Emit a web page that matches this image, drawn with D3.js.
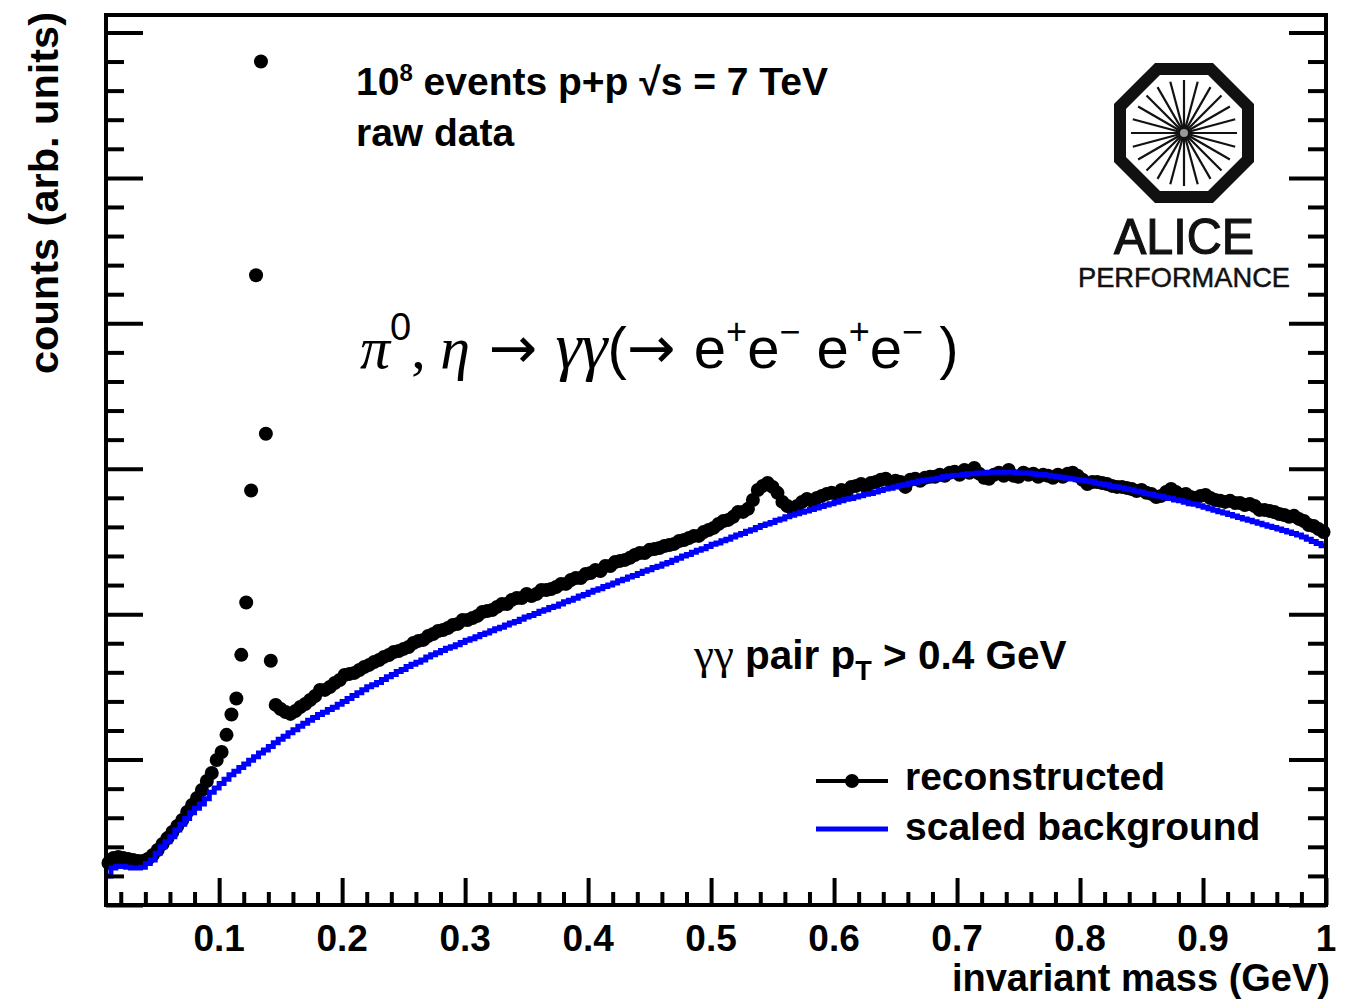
<!DOCTYPE html>
<html>
<head>
<meta charset="utf-8">
<script src="https://cdn.jsdelivr.net/npm/d3@7"></script>
<style>
  body { margin: 0; background: #fff; }
  svg { display: block; }
  text { font-family: "Liberation Sans", Arial, Helvetica, sans-serif; }
</style>
</head>
<body>
<svg id="chart" width="1350" height="1000"></svg>
<script>
// histogram binning (GeV)
const BIN_LO = 0.008;
const BIN_W = 0.004;

// reconstructed gamma-gamma invariant mass, counts (arb. units) per bin
const reconstructed = [
  28.9, 32.3, 33.0, 32.3, 31.6, 31.0, 30.3, 30.3, 31.6, 34.4,
  37.8, 42.0, 46.0, 50.2, 54.3, 58.5, 64.0, 68.8, 73.6, 79.1,
  85.3, 90.8, 99.7, 105.2, 117.0, 131.0, 142.0, 172.0, 208.0, 285.0,
  433.0, 580.0, 324.0, 168.0, 137.6, 134.8, 132.7, 131.4, 133.4, 136.2,
  138.2, 141.0, 143.7, 147.9, 147.9, 149.9, 152.7, 154.7, 158.2, 158.9,
  159.6, 161.6, 163.7, 165.1, 167.1, 168.5, 170.6, 171.9, 174.0, 174.7,
  176.1, 177.4, 180.2, 181.6, 182.3, 185.0, 186.4, 188.4, 189.1, 190.5,
  192.6, 193.3, 196.0, 196.0, 197.4, 198.8, 201.5, 202.2, 202.9, 205.0,
  207.0, 207.0, 209.8, 211.1, 211.1, 213.9, 212.5, 213.9, 216.6, 216.6,
  217.3, 218.7, 220.8, 220.8, 223.5, 224.9, 224.9, 227.6, 228.3, 230.4,
  229.7, 233.1, 233.1, 235.9, 236.6, 237.3, 238.7, 240.7, 242.1, 242.1,
  244.2, 244.8, 245.5, 246.9, 247.6, 248.3, 250.3, 251.0, 252.4, 253.8,
  253.8, 256.5, 257.9, 259.3, 262.0, 264.1, 264.8, 266.9, 270.3, 270.3,
  272.4, 278.5, 285.4, 288.2, 290.2, 287.5, 283.4, 277.2, 274.4, 272.4,
  274.4, 277.2, 279.2, 277.9, 279.9, 281.3, 282.7, 283.4, 282.7, 285.4,
  284.0, 287.5, 288.2, 289.5, 287.5, 290.2, 290.9, 292.4, 293.1, 291.1,
  291.7, 290.9, 287.5, 292.4, 293.1, 291.7, 293.8, 294.4, 294.4, 295.9,
  295.2, 297.2, 297.9, 295.9, 299.2, 297.2, 300.5, 296.6, 293.8, 293.1,
  295.9, 297.2, 295.2, 299.2, 295.2, 294.4, 297.2, 295.9, 296.6, 294.4,
  295.9, 295.2, 293.8, 295.9, 294.4, 296.6, 297.2, 295.2, 292.4, 289.5,
  290.9, 290.9, 290.2, 289.5, 288.2, 287.5, 287.5, 286.8, 286.1, 284.7,
  285.4, 283.4, 282.7, 280.6, 281.3, 284.0, 286.1, 284.0, 281.9, 282.7,
  280.6, 279.9, 281.3, 282.0, 279.9, 278.5, 277.9, 277.2, 277.9, 276.5,
  276.5, 275.1, 275.8, 274.4, 271.7, 271.7, 271.0, 270.3, 268.9, 268.2,
  266.9, 267.6, 265.5, 264.1, 261.3, 260.6, 258.5, 256.5
];

// scaled (mixed-event) background, same binning
const background = [
  20.0, 25.5, 26.5, 26.5, 26.0, 25.5, 25.5, 26.0, 28.5, 31.0,
  35.5, 40.0, 43.5, 47.0, 51.5, 55.5, 59.5, 63.5, 66.5, 69.5,
  73.0, 77.5, 80.5, 83.5, 86.5, 89.5, 92.0, 94.5, 97.0, 99.5,
  102.0, 104.5, 106.5, 109.0, 111.5, 114.0, 116.0, 118.5, 120.5, 123.0,
  125.0, 127.0, 129.0, 131.0, 132.5, 134.5, 136.0, 138.0, 140.0, 142.0,
  144.0, 146.0, 148.0, 150.0, 151.5, 153.0, 155.0, 157.0, 158.5, 160.5,
  162.0, 164.0, 165.5, 167.0, 168.5, 170.5, 172.0, 173.5, 175.0, 176.5,
  177.5, 179.0, 180.5, 182.0, 183.0, 184.5, 186.0, 187.0, 188.5, 190.0,
  191.0, 192.5, 194.0, 195.0, 196.5, 198.0, 199.0, 200.5, 202.0, 203.0,
  204.5, 205.5, 207.0, 208.5, 209.5, 211.0, 212.5, 213.5, 215.0, 216.5,
  217.5, 219.0, 220.0, 221.5, 223.0, 224.0, 225.5, 226.5, 228.0, 229.5,
  230.5, 232.0, 233.0, 234.5, 235.5, 237.0, 238.5, 240.0, 241.0, 242.5,
  244.0, 245.0, 246.5, 248.0, 249.0, 250.5, 251.5, 253.0, 254.5, 255.5,
  257.0, 258.0, 259.5, 261.0, 262.0, 263.0, 264.5, 265.5, 267.0, 268.0,
  269.0, 270.0, 271.0, 272.0, 273.0, 274.0, 275.0, 276.0, 277.0, 278.0,
  279.0, 279.5, 280.5, 281.5, 282.5, 283.0, 284.0, 285.0, 286.0, 286.5,
  287.5, 288.5, 289.0, 290.0, 290.5, 291.5, 292.0, 292.5, 293.0, 293.5,
  294.5, 295.0, 295.5, 295.5, 296.0, 296.5, 296.5, 297.0, 297.0, 297.5,
  297.5, 297.5, 297.5, 297.5, 297.5, 297.0, 297.0, 297.0, 296.5, 296.0,
  296.0, 295.5, 295.0, 294.5, 294.0, 293.5, 293.0, 292.5, 292.0, 291.5,
  291.0, 290.0, 289.5, 289.0, 288.0, 287.5, 287.0, 286.0, 285.5, 284.5,
  284.0, 283.0, 282.5, 281.5, 281.0, 280.0, 279.5, 278.5, 278.0, 277.0,
  276.0, 275.5, 274.5, 273.5, 272.5, 271.5, 270.5, 269.5, 268.5, 267.5,
  266.5, 265.5, 264.5, 263.5, 262.5, 261.5, 260.5, 259.5, 258.5, 257.5,
  256.5, 255.5, 254.5, 253.0, 251.5, 250.0, 248.5, 247.0
];

const xMajorTicks = [0.1, 0.2, 0.3, 0.4, 0.5, 0.6, 0.7, 0.8, 0.9, 1.0];
const xTickLabels = ['0.1', '0.2', '0.3', '0.4', '0.5', '0.6', '0.7', '0.8', '0.9', '1'];
const yMajorTicks = [0, 100, 200, 300, 400, 500, 600];

const legendItems = ['reconstructed', 'scaled background'];

const svg = d3.select('#chart');
const W = 1350, H = 1000;
const fLeft = 106, fRight = 1326, fTop = 15, fBottom = 905;

svg.append('rect').attr('width', W).attr('height', H).attr('fill', '#fff');

const x = d3.scaleLinear().domain([BIN_LO, 1]).range([fLeft, fRight]);
const y = d3.scaleLinear().domain([0, 612]).range([fBottom, fTop]);

const bins = reconstructed.map((v, i) => ({
  lo: BIN_LO + i * BIN_W,
  mid: BIN_LO + (i + 0.5) * BIN_W,
  data: v,
  bkg: background[i]
}));

// clip for the histogram line
svg.append('clipPath').attr('id', 'frameClip')
  .append('rect').attr('x', fLeft).attr('y', fTop).attr('width', fRight - fLeft).attr('height', fBottom - fTop);

// reconstructed: markers only
svg.append('g')
  .selectAll('circle')
  .data(bins)
  .enter()
  .append('circle')
  .attr('cx', d => x(d.mid))
  .attr('cy', d => y(d.data))
  .attr('r', 7)
  .attr('fill', '#000');

// background: step histogram (bin edges)
const stepPts = bins.map(d => [d.lo, d.bkg]);
stepPts.push([bins[bins.length - 1].lo + BIN_W, bins[bins.length - 1].bkg]);
const line = d3.line().x(d => x(d[0])).y(d => y(d[1])).curve(d3.curveStepAfter);
svg.append('path')
  .attr('d', line(stepPts))
  .attr('fill', 'none')
  .attr('stroke', '#0000ff')
  .attr('stroke-width', 5)
  .attr('clip-path', 'url(#frameClip)');

// axes ticks (ROOT style: inward ticks on bottom, left and right)
const tickStyle = g => {
  g.select('.domain').remove();
  g.selectAll('line').attr('stroke', '#000').attr('stroke-width', 4);
};
const xMinor = d3.range(0.02, 1, 0.02).filter(v => Math.abs(v * 10 - Math.round(v * 10)) > 1e-6);
const yMinor = d3.range(20, 612, 20).filter(v => v % 100 !== 0);

svg.append('g').attr('transform', `translate(0,${fBottom})`)
  .call(d3.axisBottom(x).tickValues(xMajorTicks).tickSize(-27).tickFormat('')).call(tickStyle);
svg.append('g').attr('transform', `translate(0,${fBottom})`)
  .call(d3.axisBottom(x).tickValues(xMinor).tickSize(-13).tickFormat('')).call(tickStyle);

[[fLeft, d3.axisLeft], [fRight, d3.axisRight]].forEach(([pos, ax]) => {
  svg.append('g').attr('transform', `translate(${pos},0)`)
    .call(ax(y).tickValues(yMajorTicks).tickSize(-37).tickFormat('')).call(tickStyle);
  svg.append('g').attr('transform', `translate(${pos},0)`)
    .call(ax(y).tickValues(yMinor).tickSize(-18).tickFormat('')).call(tickStyle);
});

// frame
svg.append('rect')
  .attr('x', fLeft).attr('y', fTop)
  .attr('width', fRight - fLeft).attr('height', fBottom - fTop)
  .attr('fill', 'none').attr('stroke', '#000').attr('stroke-width', 4);

// tick labels
svg.append('g')
  .selectAll('text')
  .data(xMajorTicks)
  .enter()
  .append('text')
  .attr('x', d => x(d))
  .attr('y', 951)
  .attr('text-anchor', 'middle')
  .attr('font-size', 37)
  .attr('font-weight', 'bold')
  .text((d, i) => xTickLabels[i]);

// axis titles
svg.append('text')
  .attr('x', 1330).attr('y', 991)
  .attr('text-anchor', 'end')
  .attr('font-size', 38).attr('font-weight', 'bold')
  .text('invariant mass (GeV)');

svg.append('text')
  .attr('transform', 'translate(58,12) rotate(-90)')
  .attr('text-anchor', 'end')
  .attr('font-size', 41.5).attr('font-weight', 'bold')
  .text('counts (arb. units)');

// header text
const head = svg.append('text').attr('x', 356).attr('y', 95)
  .attr('font-size', 39).attr('font-weight', 'bold');
head.append('tspan').text('10');
head.append('tspan').attr('dy', -14).attr('font-size', 24).text('8');
head.append('tspan').attr('dy', 14).text(' events p+p \u221As = 7 TeV');

svg.append('text').attr('x', 356).attr('y', 146)
  .attr('font-size', 39).attr('font-weight', 'bold')
  .text('raw data');

// decay formula
const serif = '"Liberation Serif", "DejaVu Serif", serif';
const arrowFont = '"DejaVu Sans", sans-serif';
const formula = [
  { t: '\u03C0', ff: serif, it: true, fs: 60 },
  { t: '0', fs: 38, dy: -28 },
  { t: ', ', ff: serif, dy: 28 },
  { t: '\u03B7', ff: serif, it: true, fs: 60 },
  { t: ' \u2192 ', ff: arrowFont },
  { t: '\u03B3\u03B3', ff: serif, it: true, fs: 66 },
  { t: '(' },
  { t: '\u2192 ', ff: arrowFont },
  { t: 'e' },
  { t: '+', fs: 36, dy: -24 },
  { t: 'e', dy: 24 },
  { t: '\u2212', fs: 36, dy: -24 },
  { t: ' e', dy: 24 },
  { t: '+', fs: 36, dy: -24 },
  { t: 'e', dy: 24 },
  { t: '\u2212', fs: 36, dy: -24 },
  { t: ' )', dy: 24 }
];
const f = svg.append('text').attr('x', 360).attr('y', 368).attr('font-size', 58);
formula.forEach(p => {
  const s = f.append('tspan').text(p.t);
  if (p.ff) s.attr('font-family', p.ff);
  if (p.it) s.attr('font-style', 'italic');
  if (p.fs) s.attr('font-size', p.fs);
  if (p.dy) s.attr('dy', p.dy);
});

// pT cut
const pt = svg.append('text').attr('x', 694).attr('y', 669).attr('font-size', 40.5);
pt.append('tspan').attr('font-family', serif).attr('font-size', 45).text('\u03B3\u03B3');
pt.append('tspan').attr('font-weight', 'bold').text(' pair p');
pt.append('tspan').attr('dy', 11).attr('font-size', 27).attr('font-weight', 'bold').text('T');
pt.append('tspan').attr('dy', -11).attr('font-weight', 'bold').text(' > 0.4 GeV');

// legend
const leg = svg.append('g');
leg.append('line').attr('x1', 816).attr('x2', 888).attr('y1', 781).attr('y2', 781)
  .attr('stroke', '#000').attr('stroke-width', 4);
leg.append('circle').attr('cx', 852).attr('cy', 781).attr('r', 7).attr('fill', '#000');
leg.append('line').attr('x1', 816).attr('x2', 888).attr('y1', 829).attr('y2', 829)
  .attr('stroke', '#0000ff').attr('stroke-width', 5);
leg.selectAll('text')
  .data(legendItems)
  .enter()
  .append('text')
  .attr('x', 905)
  .attr('y', (d, i) => 790 + i * 50)
  .attr('font-size', 39)
  .attr('font-weight', 'bold')
  .text(d => d);

// ALICE performance logo
const logo = svg.append('g').attr('transform', 'translate(1184,133)');
const R = 64 / Math.cos(Math.PI / 8);
logo.append('polygon')
  .attr('points', d3.range(8).map(k => {
    const a = Math.PI / 8 + k * Math.PI / 4;
    return [R * Math.cos(a), R * Math.sin(a)].join(',');
  }).join(' '))
  .attr('fill', '#fff').attr('stroke', '#111').attr('stroke-width', 12);
logo.append('g')
  .selectAll('line')
  .data(d3.range(24))
  .enter()
  .append('line')
  .attr('x1', 0).attr('y1', 0)
  .attr('x2', k => 53 * Math.cos(k * Math.PI / 12))
  .attr('y2', k => 53 * Math.sin(k * Math.PI / 12))
  .attr('stroke', '#111').attr('stroke-width', 2.2);
logo.append('circle').attr('r', 4).attr('fill', '#999');
logo.append('text')
  .attr('x', 0).attr('y', 121)
  .attr('text-anchor', 'middle')
  .attr('font-family', '"DejaVu Sans Mono", monospace')
  .attr('font-size', 50)
  .attr('textLength', 140).attr('lengthAdjust', 'spacingAndGlyphs')
  .attr('fill', '#111').attr('stroke', '#111').attr('stroke-width', 1.2)
  .text('ALICE');
logo.append('text')
  .attr('x', 0).attr('y', 154)
  .attr('text-anchor', 'middle')
  .attr('font-family', '"DejaVu Sans Mono", monospace')
  .attr('font-size', 28)
  .attr('textLength', 212).attr('lengthAdjust', 'spacingAndGlyphs')
  .attr('fill', '#111').attr('stroke', '#111').attr('stroke-width', 0.5)
  .text('PERFORMANCE');
</script>
</body>
</html>
